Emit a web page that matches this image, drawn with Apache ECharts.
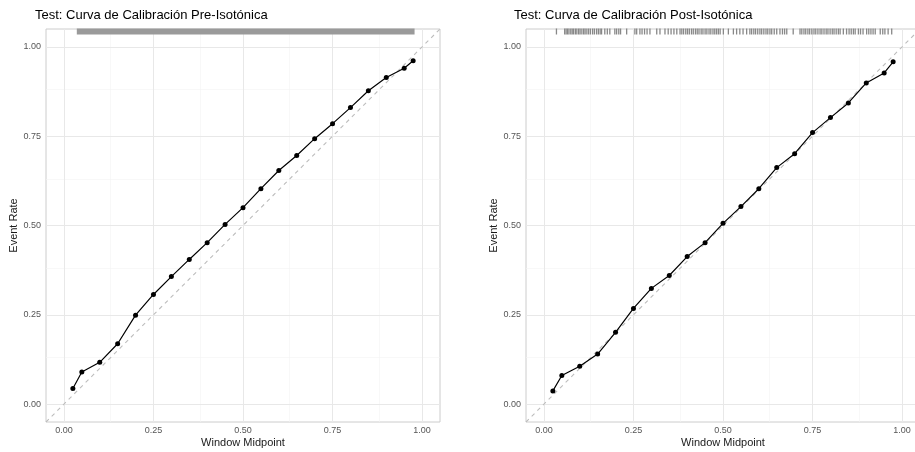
<!DOCTYPE html>
<html>
<head>
<meta charset="utf-8">
<script src="https://cdn.jsdelivr.net/npm/echarts@6/dist/echarts.min.js"></script>
<style>
html,body{margin:0;padding:0;background:#fff;}
#chart{width:915px;height:452px;}
</style>
</head>
<body>
<div id="chart"></div>
<script>
// ---- data ----
const titles = ['Test: Curva de Calibración Pre-Isotónica', 'Test: Curva de Calibración Post-Isotónica'];
const xName = 'Window Midpoint';
const yName = 'Event Rate';
const majorBreaks = [0, 0.25, 0.5, 0.75, 1];
const minorBreaks = [0.125, 0.375, 0.625, 0.875];
const midpoints = [0.025, 0.05, 0.10, 0.15, 0.20, 0.25, 0.30, 0.35, 0.40, 0.45, 0.50, 0.55, 0.60, 0.65, 0.70, 0.75, 0.80, 0.85, 0.90, 0.95, 0.975];
const preRate = [0.044, 0.090, 0.117, 0.169, 0.249, 0.307, 0.357, 0.405, 0.452, 0.503, 0.550, 0.603, 0.654, 0.696, 0.743, 0.785, 0.830, 0.877, 0.914, 0.940, 0.961];
const postRate = [0.037, 0.080, 0.106, 0.140, 0.201, 0.268, 0.324, 0.360, 0.413, 0.452, 0.506, 0.553, 0.603, 0.662, 0.701, 0.760, 0.802, 0.843, 0.899, 0.927, 0.958];
const leftRugRange = [0.036, 0.979];
const rightRug = [
0.035,
0.058,0.062,0.066,0.070,0.075,0.079,0.083,0.088,0.092,0.097,0.101,0.106,0.111,0.115,0.120,0.125,0.130,0.136,0.141,0.147,0.152,0.157,0.161,
0.170,0.177,0.184,
0.198,0.203,0.209,0.214,
0.231,
0.254,0.259,0.268,0.274,0.281,0.288,0.296,0.315,
0.324,0.338,
0.347,0.355,0.363,0.371,
0.380,0.385,0.390,0.396,0.401,0.406,0.412,0.417,0.423,0.428,0.433,0.439,0.444,0.450,0.455,0.461,0.466,0.472,0.477,0.482,0.487,0.492,
0.501,0.515,
0.529,0.538,0.547,0.556,0.566,
0.575,0.580,0.586,0.591,0.597,0.603,0.608,0.614,0.620,0.625,0.631,
0.636,0.643,0.650,
0.659,0.666,0.672,0.678,
0.696,
0.715,0.720,0.726,0.731,0.737,0.742,0.748,0.754,0.759,0.765,0.771,0.776,0.782,0.788,0.793,0.799,0.805,0.810,0.816,0.822,0.827,
0.836,0.845,0.852,0.858,0.864,0.869,
0.878,0.884,0.891,
0.901,0.907,0.913,0.919,0.925,
0.939,0.946,0.952,
0.961,0.971
];
const axisMin = -0.05, axisMax = 1.05;

// ---- chart ----
const FONT = 'Liberation Sans, Arial, sans-serif';
const chart = echarts.init(document.getElementById('chart'), null, {renderer: 'canvas'});

function xAxisDef(i) {
  return {
    gridIndex: i, type: 'value', min: axisMin, max: axisMax,
    name: xName, nameLocation: 'middle', nameGap: 15, nameMoveOverlap: false,
    nameTextStyle: {fontFamily: FONT, fontSize: 11, color: '#1a1a1a'},
    axisLine: {show: false},
    axisTick: {show: true, length: 3, customValues: majorBreaks, lineStyle: {color: '#b3b3b3'}},
    axisLabel: {customValues: majorBreaks, margin: 4, fontFamily: FONT, fontSize: 9, color: '#555',
      formatter: v => Number(v).toFixed(2)},
    splitLine: {show: false}
  };
}
function yAxisDef(i) {
  return {
    gridIndex: i, type: 'value', min: axisMin, max: axisMax,
    name: yName, nameLocation: 'middle', nameGap: 27, nameMoveOverlap: false,
    nameTextStyle: {fontFamily: FONT, fontSize: 11, color: '#1a1a1a'},
    axisLine: {show: false},
    axisTick: {show: true, length: 3, customValues: majorBreaks, lineStyle: {color: '#b3b3b3'}},
    axisLabel: {customValues: majorBreaks, margin: 5, fontFamily: FONT, fontSize: 9, color: '#555',
      formatter: v => Number(v).toFixed(2)},
    splitLine: {show: false}
  };
}
function gridLines(i) {
  const maj = {color: '#e8e8e8', width: 1, type: 'solid'};
  const min = {color: '#f3f3f3', width: 0.6, type: 'solid'};
  const data = [];
  minorBreaks.forEach(v => { data.push({xAxis: v, lineStyle: min}); data.push({yAxis: v, lineStyle: min}); });
  majorBreaks.forEach(v => { data.push({xAxis: v, lineStyle: maj}); data.push({yAxis: v, lineStyle: maj}); });
  return {
    type: 'line', xAxisIndex: i, yAxisIndex: i, z: 1,
    data: [[axisMin, axisMin]], showSymbol: false, lineStyle: {opacity: 0},
    silent: true,
    markLine: {z: 1, silent: true, symbol: ['none', 'none'], label: {show: false}, animation: false, data: data}
  };
}
function diagonal(i) {
  return {
    type: 'line', xAxisIndex: i, yAxisIndex: i, z: 2,
    data: [[axisMin, axisMin], [axisMax, axisMax]],
    showSymbol: false, silent: true,
    lineStyle: {color: '#bdbdbd', width: 1.1, type: [4, 4]}
  };
}
function curve(i, ys) {
  return {
    type: 'line', xAxisIndex: i, yAxisIndex: i, z: 4,
    data: midpoints.map((x, k) => [x, ys[k]]),
    symbol: 'circle', symbolSize: 5, showSymbol: true,
    itemStyle: {color: '#000'},
    lineStyle: {color: '#000', width: 1.2}
  };
}

const option = {
  animation: false,
  backgroundColor: '#fff',
  title: [
    {text: titles[0], left: 30, top: 4, textStyle: {fontFamily: FONT, fontSize: 13, fontWeight: 'normal', color: '#000'}},
    {text: titles[1], left: 509, top: 4, textStyle: {fontFamily: FONT, fontSize: 13, fontWeight: 'normal', color: '#000'}}
  ],
  grid: [
    {left: 46, top: 29, width: 394, height: 393, outerBoundsMode: 'none', containLabel: false, show: true, borderColor: '#cccccc', borderWidth: 1, backgroundColor: 'transparent'},
    {left: 526, top: 29, width: 394, height: 393, outerBoundsMode: 'none', containLabel: false, show: true, borderColor: '#cccccc', borderWidth: 1, backgroundColor: 'transparent'}
  ],
  xAxis: [xAxisDef(0), xAxisDef(1)],
  yAxis: [yAxisDef(0), yAxisDef(1)],
  series: [
    gridLines(0), gridLines(1),
    diagonal(0), diagonal(1),
    {
      type: 'custom', xAxisIndex: 0, yAxisIndex: 0, z: 3, silent: true,
      data: [[leftRugRange[0], leftRugRange[1]]],
      encode: {x: [0, 1]},
      renderItem: function (params, api) {
        const p1 = api.coord([api.value(0), axisMax]);
        const p2 = api.coord([api.value(1), axisMax]);
        return {type: 'rect', shape: {x: p1[0], y: p1[1] - 0.5, width: p2[0] - p1[0], height: 6},
          style: {fill: '#9a9a9a'}};
      }
    },
    {
      type: 'custom', xAxisIndex: 1, yAxisIndex: 1, z: 3, silent: true,
      data: rightRug.map(v => [v, axisMax]),
      encode: {x: 0, y: 1},
      renderItem: function (params, api) {
        const p = api.coord([api.value(0), axisMax]);
        return {type: 'line', shape: {x1: p[0], y1: p[1] - 0.5, x2: p[0], y2: p[1] + 5.5},
          style: {stroke: '#888888', lineWidth: 1.3}};
      }
    },
    curve(0, preRate), curve(1, postRate)
  ]
};
chart.setOption(option);
</script>
</body>
</html>
